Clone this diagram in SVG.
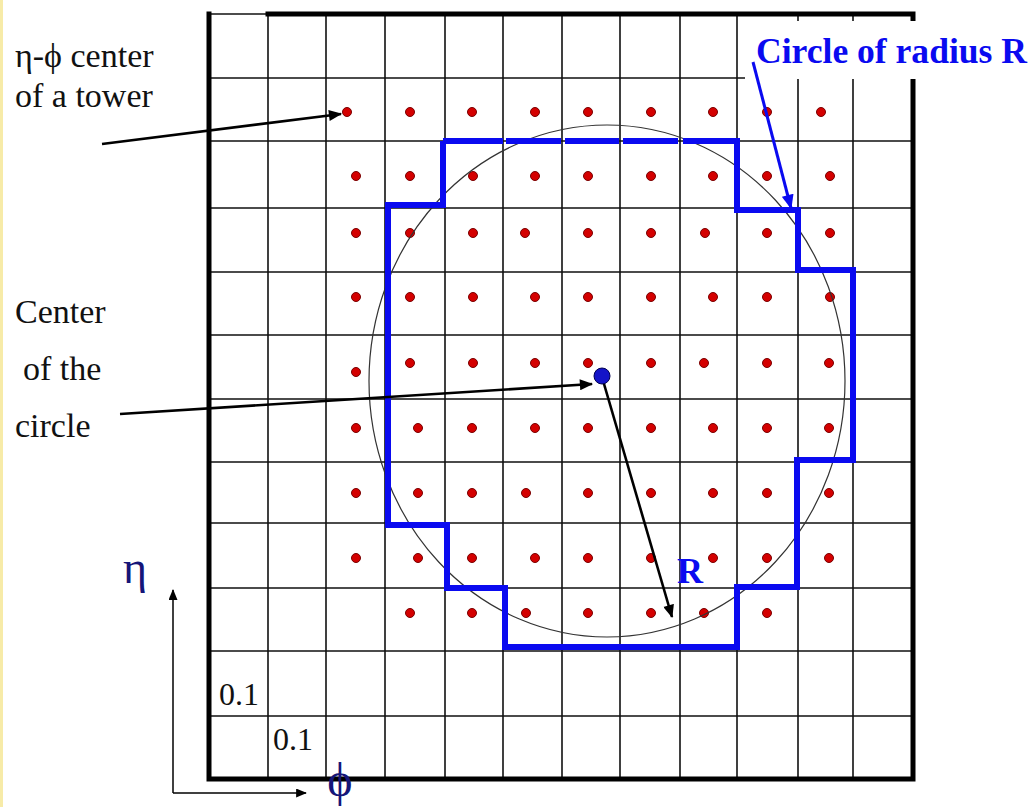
<svg xmlns="http://www.w3.org/2000/svg" width="1032" height="807" viewBox="0 0 1032 807">
<defs>
<style>
.grid{stroke:#111;stroke-width:1.6;fill:none}
.frame{stroke:#000;stroke-width:5;fill:none;stroke-linecap:square}
.dot{fill:#d40000;stroke:#7a0000;stroke-width:1}
.blue{stroke:#0a0af0;stroke-width:6;fill:none;stroke-linejoin:miter}
.lbl{fill:#111}
.bl{font-weight:bold;fill:#0a0af0}
.greek{fill:#151578}
.arr{stroke:#000;stroke-width:2.6;fill:none}
.thin{stroke:#000;stroke-width:1.5;fill:none}
</style>
<marker id="ah" viewBox="0 0 12 10" refX="11" refY="5" markerWidth="14" markerHeight="11" markerUnits="userSpaceOnUse" orient="auto">
<path d="M0,0 L12,5 L0,10 z" fill="#000"/>
</marker>
<marker id="ahs" viewBox="0 0 12 10" refX="11" refY="5" markerWidth="11" markerHeight="9" markerUnits="userSpaceOnUse" orient="auto">
<path d="M0,0 L12,5 L0,10 z" fill="#000"/>
</marker>
<marker id="ahb" viewBox="0 0 12 10" refX="11" refY="5" markerWidth="15" markerHeight="12" markerUnits="userSpaceOnUse" orient="auto">
<path d="M0,0 L12,5 L0,10 z" fill="#0a0af0"/>
</marker>
</defs>
<rect x="0" y="0" width="1032" height="807" fill="#fff"/>
<rect x="0" y="0" width="3" height="807" fill="#f7eba8"/>

<g id="grid">
<path class="grid" d="M268,14V779 M326,14V779 M385,14V779 M445,14V779 M503,14V779 M562,14V779 M620,14V779 M680,14V779 M737,14V779 M798,14V779 M853,14V779"/>
<path class="grid" d="M209,78H913 M209,141H913 M209,208H913 M209,272H913 M209,335H913 M209,399H913 M209,462H913 M209,523H913 M209,588H913 M209,651H913 M209,716H913"/>
<path class="grid" d="M209,14H268"/>
<path class="frame" d="M268,14H913V23 M913,80V779H209V14"/>
</g>

<rect x="745" y="21" width="287" height="58" fill="#fff"/>

<g id="towers">
<circle class="dot" cx="347" cy="112" r="4.5"/><circle class="dot" cx="410" cy="112" r="4.5"/><circle class="dot" cx="472" cy="112" r="4.5"/><circle class="dot" cx="535" cy="112" r="4.5"/><circle class="dot" cx="588" cy="112" r="4.5"/><circle class="dot" cx="651" cy="112" r="4.5"/><circle class="dot" cx="713" cy="112" r="4.5"/><circle class="dot" cx="767" cy="112" r="4.5"/><circle class="dot" cx="821" cy="112" r="4.5"/>
<circle class="dot" cx="356" cy="176" r="4.5"/><circle class="dot" cx="410" cy="176" r="4.5"/><circle class="dot" cx="473" cy="176" r="4.5"/><circle class="dot" cx="535" cy="176" r="4.5"/><circle class="dot" cx="588" cy="176" r="4.5"/><circle class="dot" cx="651" cy="176" r="4.5"/><circle class="dot" cx="713" cy="176" r="4.5"/><circle class="dot" cx="767" cy="176" r="4.5"/><circle class="dot" cx="830" cy="176" r="4.5"/>
<circle class="dot" cx="356" cy="233" r="4.5"/><circle class="dot" cx="410" cy="233" r="4.5"/><circle class="dot" cx="473" cy="233" r="4.5"/><circle class="dot" cx="525" cy="233" r="4.5"/><circle class="dot" cx="588" cy="233" r="4.5"/><circle class="dot" cx="651" cy="233" r="4.5"/><circle class="dot" cx="705" cy="233" r="4.5"/><circle class="dot" cx="767" cy="233" r="4.5"/><circle class="dot" cx="830" cy="233" r="4.5"/>
<circle class="dot" cx="356" cy="297" r="4.5"/><circle class="dot" cx="410" cy="297" r="4.5"/><circle class="dot" cx="473" cy="297" r="4.5"/><circle class="dot" cx="535" cy="297" r="4.5"/><circle class="dot" cx="588" cy="297" r="4.5"/><circle class="dot" cx="651" cy="297" r="4.5"/><circle class="dot" cx="713" cy="297" r="4.5"/><circle class="dot" cx="767" cy="297" r="4.5"/><circle class="dot" cx="830" cy="297" r="4.5"/>
<circle class="dot" cx="356" cy="372" r="4.5"/><circle class="dot" cx="410" cy="363" r="4.5"/><circle class="dot" cx="473" cy="363" r="4.5"/><circle class="dot" cx="535" cy="363" r="4.5"/><circle class="dot" cx="588" cy="363" r="4.5"/><circle class="dot" cx="651" cy="363" r="4.5"/><circle class="dot" cx="704" cy="363" r="4.5"/><circle class="dot" cx="767" cy="363" r="4.5"/><circle class="dot" cx="829" cy="363" r="4.5"/>
<circle class="dot" cx="356" cy="428" r="4.5"/><circle class="dot" cx="418" cy="428" r="4.5"/><circle class="dot" cx="472" cy="428" r="4.5"/><circle class="dot" cx="535" cy="428" r="4.5"/><circle class="dot" cx="588" cy="428" r="4.5"/><circle class="dot" cx="651" cy="428" r="4.5"/><circle class="dot" cx="713" cy="428" r="4.5"/><circle class="dot" cx="767" cy="428" r="4.5"/><circle class="dot" cx="829" cy="428" r="4.5"/>
<circle class="dot" cx="356" cy="493" r="4.5"/><circle class="dot" cx="418" cy="493" r="4.5"/><circle class="dot" cx="472" cy="493" r="4.5"/><circle class="dot" cx="526" cy="493" r="4.5"/><circle class="dot" cx="588" cy="493" r="4.5"/><circle class="dot" cx="651" cy="493" r="4.5"/><circle class="dot" cx="713" cy="493" r="4.5"/><circle class="dot" cx="767" cy="493" r="4.5"/><circle class="dot" cx="829" cy="493" r="4.5"/>
<circle class="dot" cx="356" cy="558" r="4.5"/><circle class="dot" cx="418" cy="558" r="4.5"/><circle class="dot" cx="472" cy="558" r="4.5"/><circle class="dot" cx="535" cy="558" r="4.5"/><circle class="dot" cx="588" cy="558" r="4.5"/><circle class="dot" cx="651" cy="558" r="4.5"/><circle class="dot" cx="713" cy="558" r="4.5"/><circle class="dot" cx="767" cy="558" r="4.5"/><circle class="dot" cx="829" cy="558" r="4.5"/>
<circle class="dot" cx="410" cy="613" r="4.5"/><circle class="dot" cx="472" cy="613" r="4.5"/><circle class="dot" cx="526" cy="613" r="4.5"/><circle class="dot" cx="588" cy="613" r="4.5"/><circle class="dot" cx="651" cy="613" r="4.5"/><circle class="dot" cx="704" cy="613" r="4.5"/><circle class="dot" cx="767" cy="613" r="4.5"/>
</g>

<g id="circle">
<ellipse cx="607" cy="381" rx="238" ry="256" fill="none" stroke="#333" stroke-width="1.2"/>
</g>

<g id="towerset">
<path class="blue" d="M443,141V205H388V525H447V588H505V647H737V587H797V460H853V270H798V210H737V141"/>
<path class="blue" d="M443,141H503 M506,141H561 M565,141H619 M623,141H678 M683,141H740"/>
</g>

<g id="connectors">
<line class="arr" x1="102" y1="144" x2="341" y2="114" marker-end="url(#ah)"/>
<line class="arr" x1="120" y1="414" x2="592" y2="384" marker-end="url(#ah)"/>
<line class="arr" x1="602" y1="377" x2="672" y2="617" stroke-width="3" marker-end="url(#ah)"/>
<line x1="753" y1="62" x2="791" y2="208" stroke="#0a0af0" stroke-width="3" marker-end="url(#ahb)"/>
<line class="thin" x1="173" y1="793" x2="173" y2="590" marker-end="url(#ahs)"/>
<line class="thin" x1="173" y1="793" x2="306" y2="793" marker-end="url(#ahs)"/>
</g>

<g id="center">
<circle cx="602" cy="376" r="8" fill="#1414c8" stroke="#000050" stroke-width="1"/>
</g>

<g id="labels" font-family="'Liberation Serif', 'Times New Roman', 'DejaVu Serif', serif">
<text class="lbl" x="15" y="67" font-size="34">η-ϕ center</text>
<text class="lbl" x="15" y="107" font-size="34">of a tower</text>
<text class="lbl" x="15" y="323" font-size="34">Center</text>
<text class="lbl" x="23" y="380" font-size="34">of the</text>
<text class="lbl" x="15" y="437" font-size="34">circle</text>
<text class="lbl" x="219" y="705" font-size="32">0.1</text>
<text class="lbl" x="273" y="750" font-size="32">0.1</text>
<text class="bl" x="756" y="63" font-size="36" textLength="271" lengthAdjust="spacingAndGlyphs">Circle of radius R</text>
<text class="bl" x="677" y="583" font-size="36">R</text>
<text class="greek" x="123" y="583" font-size="46">η</text>
<text class="greek" x="340" y="796" font-size="48" text-anchor="middle">ϕ</text>
</g>
</svg>
